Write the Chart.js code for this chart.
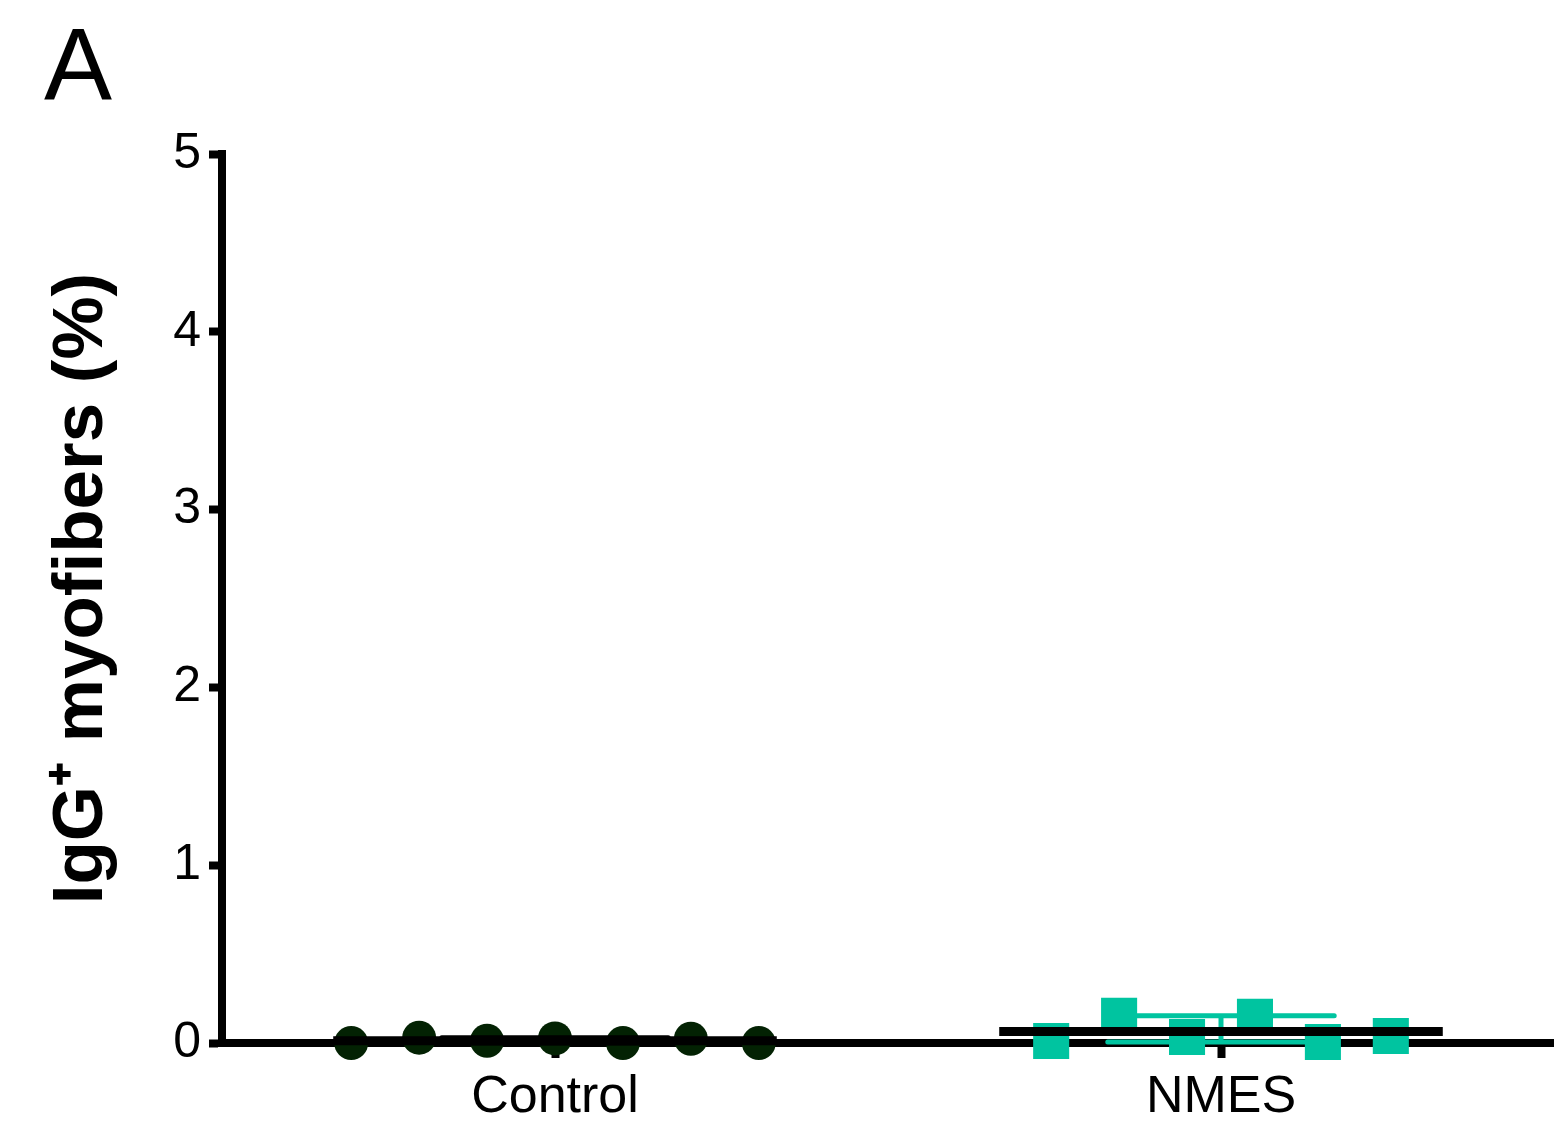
<!DOCTYPE html>
<html><head><meta charset="utf-8">
<script src="https://cdn.jsdelivr.net/npm/chart.js@4.4.1/dist/chart.umd.min.js"></script>
<style>html,body{margin:0;padding:0;background:#fff}#wrap{width:1554px;height:1130px;position:relative}</style>
</head><body><div id="wrap"><canvas id="c"></canvas></div>
<script>
// ---- data ----
const categories = ['Control', 'NMES'];
const controlValues = [0.000, 0.030, 0.013, 0.026, 0.000, 0.024, 0.000];
const nmesValues = [0.011, 0.153, 0.034, 0.147, 0.006, 0.039];
const groupMeans = [0.013, 0.065];
const groupLow = [0.000, 0.006];
const groupHigh = [0.030, 0.153];
const yTicks = [0, 1, 2, 3, 4, 5];
const yTitle = 'IgG\u207A myofibers (%)';
const panelLabel = 'A';

// ---- styling / layout constants ----
const FONT = 'Arial, "Liberation Sans", sans-serif';
const colControl = '#032203';
const colNmes = '#00C4A0';
const jitter = 0.102;
const meanHalf = 0.333;
const capHalf = 0.17;

function jittered(values, gi) {
  const c = gi + 0.5, n = values.length;
  return values.map((v, i) => ({x: c + (i - (n - 1) / 2) * jitter, y: v}));
}
function meanLine(gi) {
  const c = gi + 0.5;
  return [{x: c - meanHalf, y: groupMeans[gi]}, {x: c + meanHalf, y: groupMeans[gi]}];
}
function errBar(gi) {
  const c = gi + 0.5, lo = groupLow[gi], hi = groupHigh[gi];
  return [
    {x: c - capHalf, y: hi}, {x: c + capHalf, y: hi}, {x: c, y: null},
    {x: c, y: hi}, {x: c, y: lo}, {x: c, y: null},
    {x: c - capHalf, y: lo}, {x: c + capHalf, y: lo}
  ];
}

const lineDs = (data, color, width, cap, order) => ({
  data, showLine: true, borderColor: color, borderWidth: width, pointRadius: 0,
  borderCapStyle: cap, spanGaps: false, order, tension: 0, fill: false, clip: false
});

const textPlugin = {
  id: 'texts',
  afterDraw(chart) {
    const ctx = chart.ctx, y = chart.scales.y;
    ctx.save();
    ctx.fillStyle = '#000';
    ctx.font = '102px ' + FONT;
    ctx.textBaseline = 'alphabetic';
    ctx.textAlign = 'left';
    ctx.fillText(panelLabel, 44, 100);
    // y axis title
    ctx.translate(102, (y.top + y.bottom) / 2 - 10);
    ctx.rotate(-Math.PI / 2);
    ctx.textAlign = 'center';
    ctx.font = 'bold 71px ' + FONT;
    ctx.fillText(yTitle, 0, 0);
    ctx.restore();
  }
};

new Chart(document.getElementById('c'), {
  type: 'scatter',
  data: {
    datasets: [
      {label: categories[0], data: jittered(controlValues, 0), pointStyle: 'circle', pointRadius: 17,
       backgroundColor: colControl, borderWidth: 0, order: 5, clip: false},
      {label: categories[1], data: jittered(nmesValues, 1), pointStyle: 'rect', pointRadius: 25.5,
       backgroundColor: colNmes, borderWidth: 0, order: 5, clip: false},
      lineDs(errBar(0), '#000', 5, 'round', 3),
      lineDs(errBar(1), colNmes, 5, 'round', 3),
      lineDs(meanLine(0), '#000', 9, 'butt', 1),
      lineDs(meanLine(1), '#000', 9, 'butt', 1)
    ]
  },
  options: {
    responsive: true, maintainAspectRatio: false, animation: false,
    layout: {autoPadding: false, padding: {top: 154, right: 0, left: 0, bottom: 0}},
    plugins: {legend: {display: false}, tooltip: {enabled: false}},
    scales: {
      x: {
        type: 'linear', min: 0, max: 2,
        afterBuildTicks: (s) => { s.ticks = categories.map((c, i) => ({value: i + 0.5})); },
        afterFit: (s) => { s.height = 87; },
        ticks: {callback: (v, i) => categories[i], autoSkip: false, maxRotation: 0,
                color: '#000', font: {family: FONT, size: 52}, padding: 8},
        grid: {drawOnChartArea: false, drawTicks: true, tickLength: 15, tickWidth: 8, tickColor: '#000'},
        border: {display: true, color: '#000', width: 8}
      },
      y: {
        min: 0, max: 5,
        afterBuildTicks: (s) => { s.ticks = yTicks.map(v => ({value: v})); },
        afterFit: (s) => { s.width = 222; },
        ticks: {color: '#000', font: {family: FONT, size: 50}, padding: 8},
        grid: {drawOnChartArea: false, drawTicks: true, tickLength: 13, tickWidth: 8, tickColor: '#000'},
        border: {display: true, color: '#000', width: 8},
        title: {display: false, text: yTitle}
      }
    }
  },
  plugins: [textPlugin]
});
</script></body></html>
